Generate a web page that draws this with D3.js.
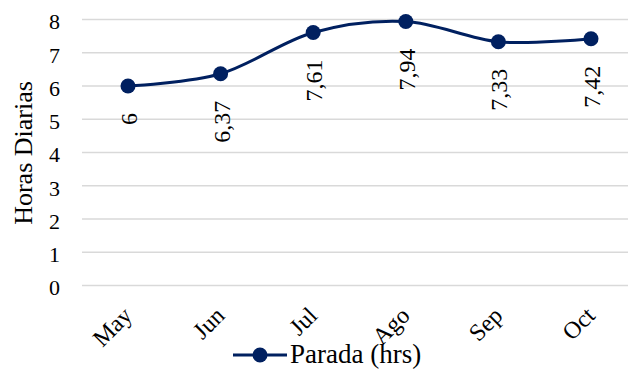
<!DOCTYPE html>
<html>
<head>
<meta charset="utf-8">
<script src="https://cdn.jsdelivr.net/npm/d3@7"></script>
<style>
  html, body { margin: 0; padding: 0; background: #fff; }
  svg { display: block; }
</style>
</head>
<body>
<svg id="chart" width="628" height="372"></svg>
<script>
// Monthly downtime (hours per day)
const months = ["May", "Jun", "Jul", "Ago", "Sep", "Oct"];
const parada = [6, 6.37, 7.61, 7.94, 7.33, 7.42];
const yTicks = [0, 1, 2, 3, 4, 5, 6, 7, 8];
const seriesName = "Parada (hrs)";
const yTitle = "Horas Diarias";

const navy = "#002060";
const gridColor = "#d9d9d9";

// Pick the first installed Times-like face
function pickFont(candidates) {
  const ctx = document.createElement("canvas").getContext("2d");
  const sample = "Horas Diarias Parada (hrs) 0123456789 May Jun";
  const w = f => { ctx.font = "40px " + f; return ctx.measureText(sample).width; };
  const mono = w("monospace"), sans = w("sans-serif");
  for (const c of candidates) {
    if (w(`"${c}", monospace`) !== mono || w(`"${c}", sans-serif`) !== sans) return `"${c}"`;
  }
  return "serif";
}
const fontFamily = pickFont(["Liberation Serif", "Times New Roman", "Tinos", "Nimbus Roman", "FreeSerif", "Noto Serif", "DejaVu Serif"]);

const svg = d3.select("#chart").style("font-family", fontFamily);

const x = d3.scalePoint().domain(months).range([128, 591]);
const y = d3.scaleLinear().domain([0, 8]).range([285.5, 19.5]);

const fmt = v => String(v).replace(".", ",");

// Horizontal gridlines
svg.append("g")
  .selectAll("line")
  .data(yTicks)
  .join("line")
  .attr("x1", 82).attr("x2", 628)
  .attr("y1", d => y(d)).attr("y2", d => y(d))
  .attr("stroke", gridColor)
  .attr("stroke-width", 1.5);

// Y axis labels
const yAxis = d3.axisLeft(y).tickValues(yTicks).tickSize(0).tickPadding(0);
svg.append("g")
  .attr("transform", "translate(60,0)")
  .call(yAxis)
  .call(g => g.attr("font-family", null).attr("font-size", null))
  .call(g => g.select(".domain").remove())
  .call(g => g.selectAll("text")
    .attr("fill", "#000")
    .attr("font-size", 22)
    .attr("dy", "0.42em"));

// Y axis title
svg.append("text")
  .attr("transform", "translate(32,153) rotate(-90)")
  .attr("text-anchor", "middle")
  .attr("font-size", 26)
  .attr("fill", "#000")
  .text(yTitle);

// X axis labels (rotated)
const xAxis = d3.axisBottom(x).tickSize(0).tickPadding(0);
svg.append("g")
  .attr("transform", "translate(0,300)")
  .call(xAxis)
  .call(g => g.attr("font-family", null).attr("font-size", null))
  .call(g => g.select(".domain").remove())
  .call(g => g.selectAll("text")
    .attr("fill", "#000")
    .attr("font-size", 24)
    .attr("text-anchor", "end")
    .attr("dy", 0)
    .attr("transform", "translate(5,17) rotate(-45)"));

// Smoothed series line
const line = d3.line()
  .x((d, i) => x(months[i]))
  .y(d => y(d))
  .curve(d3.curveCardinal.tension(0));

svg.append("path")
  .datum(parada)
  .attr("d", line)
  .attr("fill", "none")
  .attr("stroke", navy)
  .attr("stroke-width", 3);

// Markers
svg.append("g")
  .selectAll("circle")
  .data(parada)
  .join("circle")
  .attr("cx", (d, i) => x(months[i]))
  .attr("cy", d => y(d))
  .attr("r", 7.5)
  .attr("fill", navy);

// Value labels, rotated, below each point
svg.append("g")
  .selectAll("text")
  .data(parada)
  .join("text")
  .attr("transform", (d, i) => `translate(${x(months[i]) + 9},${y(d) + 27}) rotate(-90)`)
  .attr("text-anchor", "end")
  .attr("font-size", 24)
  .attr("fill", "#000")
  .text(d => fmt(d));

// Legend
const legend = svg.append("g");
legend.append("line")
  .attr("x1", 233).attr("x2", 287)
  .attr("y1", 355).attr("y2", 355)
  .attr("stroke", navy).attr("stroke-width", 3);
legend.append("circle")
  .attr("cx", 260).attr("cy", 355).attr("r", 7.5)
  .attr("fill", navy);
legend.append("text")
  .attr("x", 290).attr("y", 363)
  .attr("font-size", 27)
  .attr("fill", "#000")
  .text(seriesName);
</script>
</body>
</html>
